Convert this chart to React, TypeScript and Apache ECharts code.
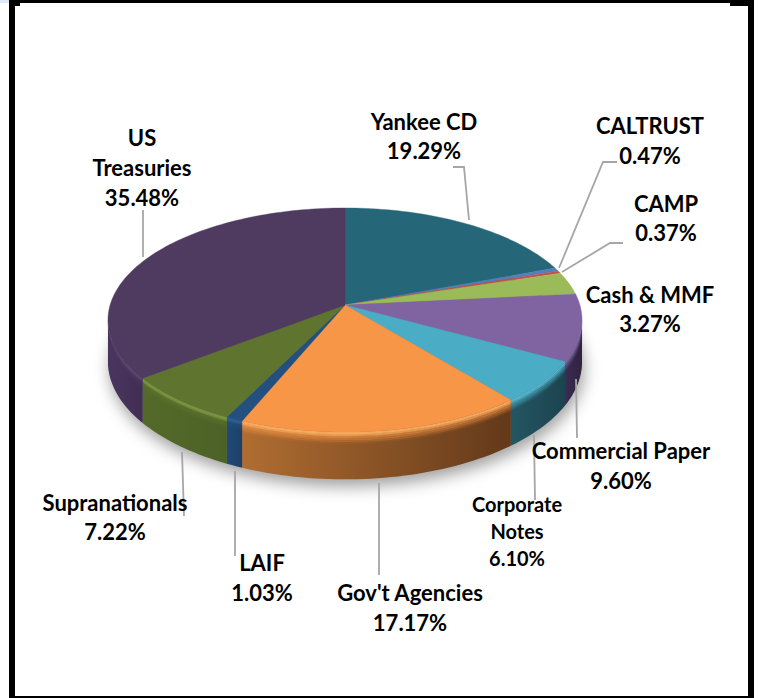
import React, { useEffect, useRef } from "react";
import * as echarts from "echarts";

const categories = ["Yankee CD", "CALTRUST", "CAMP", "Cash & MMF", "Commercial Paper", "Corporate Notes", "Gov't Agencies", "LAIF", "Supranationals", "US Treasuries"];
const shares = [19.29, 0.47, 0.37, 3.27, 9.6, 6.1, 17.17, 1.03, 7.22, 35.48];
const topColors = ["#256679", "#4f81bd", "#c0504d", "#9bbb59", "#8064a2", "#4bacc6", "#f79646", "#23507f", "#5f752f", "#4f3a60"];
const rimColors = ["#2f7a90", "#5f91cc", "#d0605d", "#abcb69", "#8f73b0", "#5bbcd6", "#ffb063", "#2f6094", "#7d9a45", "#5f4873"];
const wallLeft = ["#1b4c5a", "#3a608d", "#8f3b39", "#738b42", "#392b52", "#235663", "#b06d31", "#1f4a78", "#546a29", "#4a3560"];
const wallRight = ["#1b4c5a", "#3a608d", "#8f3b39", "#738b42", "#30243f", "#1c444f", "#63391a", "#1e3f66", "#4c6126", "#412e52"];

const labelLines: Record<string, string> = {
  "Yankee CD": "Yankee CD",
  CALTRUST: "CALTRUST",
  CAMP: "CAMP",
  "Cash & MMF": "Cash & MMF",
  "Commercial Paper": "Commercial Paper",
  "Corporate Notes": "Corporate\nNotes",
  "Gov't Agencies": "Gov't Agencies",
  LAIF: "LAIF",
  Supranationals: "Supranationals",
  "US Treasuries": "US\nTreasuries",
};

const labelSpots: [number, number, number, number][] = [
  [424, 136, 22, 29],
  [650, 140, 22, 30],
  [666, 218, 22, 29],
  [650, 309, 22, 29],
  [621, 465, 22, 30],
  [517, 531, 20, 27],
  [410, 607, 22, 30],
  [262, 577, 22, 30],
  [115, 517, 22, 29],
  [142, 167, 22, 30],
];

const leaders: number[][][] = [
  [[453, 167], [464, 167], [469, 220]],
  [[617, 162], [603, 162], [559, 268]],
  [[623, 243], [610, 243], [562, 272]],
  [],
  [[576, 379], [577, 438]],
  [[534, 435], [535, 500]],
  [[379, 483], [379, 575]],
  [[235, 471], [235, 556]],
  [[182, 452], [184, 516]],
  [[143, 210], [143, 257]],
];

const APEX_X = 345;
const APEX_Y = 305;
const SX = 234.9;
const SY = 110;
const K = 0.134;
const DEPTH = 41;
const SIL = 97.7;

function project(deg: number, drop = 0): number[] {
  const a = (deg * Math.PI) / 180;
  const x = Math.sin(a);
  const y = -Math.cos(a);
  const w = 1 / (1 - K * y);
  return [APEX_X + SX * x * w, APEX_Y + SY * y * w + drop * w];
}

function arc(from: number, to: number, drop = 0): number[][] {
  const n = Math.max(2, Math.ceil(Math.abs(to - from) / 1.5));
  const pts: number[][] = [];
  for (let i = 0; i <= n; i++) pts.push(project(from + ((to - from) * i) / n, drop));
  return pts;
}

const total = shares.reduce((s, v) => s + v, 0);
const starts: number[] = [];
shares.reduce((acc, v, i) => {
  starts[i] = (acc / total) * 360;
  return acc + v;
}, 0);

function renderSlice(params: any) {
  const i = params.dataIndex;
  const a0 = starts[i];
  const a1 = a0 + (shares[i] / total) * 360;
  const children: any[] = [];
  const v0 = Math.max(a0, SIL);
  const v1 = Math.min(a1, 360 - SIL);
  if (v1 > v0) {
    const pts = arc(v0, v1, 0).concat(arc(v0, v1, DEPTH).reverse());
    children.push({
      type: "polygon",
      shape: { points: pts },
      style: {
        fill: new echarts.graphic.LinearGradient(0, 0, 1, 0, [
          { offset: 0, color: wallLeft[i] },
          { offset: 1, color: wallRight[i] },
        ]),
      },
    });
    const steps = 6;
    for (let s = 0; s < steps; s++) {
      const d0 = (s * 10) / steps;
      const d1 = ((s + 1) * 10) / steps + 0.3;
      children.push({
        type: "polygon",
        shape: { points: arc(v0, v1, d0).concat(arc(v0, v1, d1).reverse()) },
        style: { fill: s < 2 ? rimColors[i] : topColors[i], opacity: 1 - (s + 0.5) / steps },
      });
    }
  }
  children.push({
    type: "polygon",
    shape: { points: [[APEX_X, APEX_Y], ...arc(a0, a1, 0)] },
    style: { fill: topColors[i], stroke: topColors[i], lineWidth: 0.4 },
  });
  return { type: "group", children };
}

function renderShadow() {
  return {
    type: "polygon",
    shape: { points: arc(0, 360, DEPTH - 1) },
    style: {
      fill: "#777",
      shadowBlur: 16,
      shadowOffsetX: 2,
      shadowOffsetY: 8,
      shadowColor: "rgba(0,0,0,0.38)",
    },
  };
}

function renderLeader(params: any) {
  const pts = leaders[params.dataIndex];
  if (!pts.length) return { type: "group", children: [] };
  return {
    type: "polyline",
    shape: { points: pts },
    style: { fill: "none", stroke: "#a6a6a6", lineWidth: 1.8 },
  };
}

function renderLabel(params: any) {
  const i = params.dataIndex;
  const [x, y, size, lh] = labelSpots[i];
  return {
    type: "text",
    x,
    y,
    style: {
      text: `${labelLines[categories[i]]}\n${shares[i].toFixed(2)}%`,
      font: `bold ${size}px Lato, sans-serif`,
      lineHeight: lh,
      fill: "#000",
      align: "center",
      verticalAlign: "middle",
    },
  };
}

const frame = [
  { x: 9, y: 0, width: 6, height: 698 },
  { x: 748, y: 0, width: 6, height: 698 },
  { x: 9, y: 0, width: 745, height: 3 },
  { x: 9, y: 696, width: 745, height: 2 },
  { x: 9, y: 0, width: 11, height: 6 },
  { x: 730, y: 0, width: 24, height: 6 },
];

export default function App() {
  const ref = useRef<HTMLDivElement>(null);
  useEffect(() => {
    document.body.style.margin = "0";
    const chart = echarts.init(ref.current!, null, { renderer: "svg" });
    const data = shares.map((v, i) => ({ name: categories[i], value: v }));
    const base = { type: "custom", coordinateSystem: "none", silent: true, clip: false };
    chart.setOption({
      animation: false,
      backgroundColor: "#fff",
      graphic: [
        { type: "rect", shape: { x: 0, y: 0, width: 9, height: 3 }, style: { fill: "#dfe9f5" } },
        ...frame.map((f) => ({ type: "rect", shape: f, style: { fill: "#000" } })),
      ],
      series: [
        { ...base, name: "shadow", data: [0], renderItem: renderShadow, z: 1 },
        { ...base, name: "share", data, renderItem: renderSlice, z: 2 },
        { ...base, name: "leaders", data, renderItem: renderLeader, z: 3 },
        { ...base, name: "labels", data, renderItem: renderLabel, z: 4 },
      ],
    });
    return () => chart.dispose();
  }, []);
  return <div ref={ref} style={{ width: 764, height: 698 }} />;
}
